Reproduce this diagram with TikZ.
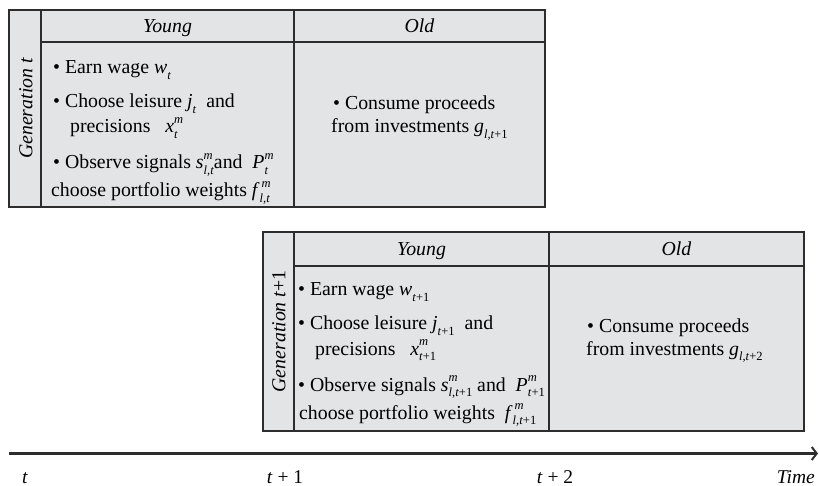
\documentclass[tikz,border=0pt]{standalone}
\usepackage{fontspec}
\setmainfont{Liberation Serif}
\usetikzlibrary{arrows.meta}
\definecolor{cellfill}{RGB}{227,228,230}
\definecolor{rule}{RGB}{45,45,45}
\newcommand{\vi}[1]{\textit{#1}}
\newcommand{\scrsz}{\fontsize{12.5}{12.5}\selectfont}
\newcommand{\Sb}[1]{\raisebox{-0.28em}{\scrsz #1}}
\newcommand{\Sp}[1]{\raisebox{0.5em}{\scrsz #1}}
\newcommand{\SbSp}[3][0pt]{\begingroup\setbox0=\hbox{\Sb{#2}}\setbox2=\hbox{\kern#1\Sp{#3}}\ifdim\wd0>\wd2 \rlap{\box2}\box0\else\rlap{\box0}\box2\fi\endgroup}
\tikzset{
  txt/.style={anchor=base west, inner sep=0pt, font=\fontsize{19.8}{22}\selectfont},
  hdr/.style={anchor=base, inner sep=0pt, font=\fontsize{19.8}{22}\selectfont\itshape},
  gen/.style={anchor=center, inner sep=0pt, rotate=90, font=\fontsize{19.8}{22}\selectfont\itshape},
  box/.style={draw=rule, fill=cellfill, line width=1.6pt},
  sep/.style={draw=rule, line width=1.6pt},
  tl/.style={anchor=base, inner sep=0pt, font=\fontsize{19.5}{22}\selectfont},
}
\begin{document}
\begin{tikzpicture}[x=1pt,y=-1pt]
\useasboundingbox (0,0) rectangle (819,486);
% ---------- Generation t ----------
\path[box] (9,10) rectangle (545,207);
\draw[sep] (41,10) -- (41,207);
\draw[sep] (41,42) -- (545,42);
\draw[sep] (294,10) -- (294,207);
\node[hdr] (y1) at (167.5,33) {Young};
\node[hdr] (o1) at (419.5,33) {Old};
\node[gen] (g1) at (26,108.5) {Generation t};
\node[txt] (a1) at (53,74) {\textbullet\ Earn wage \vi{w}\Sb{\vi{t}}};
\node[txt] (a2) at (53,108) {\textbullet\ Choose leisure \vi{j}\Sb{\vi{t}}\ \ and};
\node[txt] (a3) at (70,133) {precisions \ \ \vi{x}\SbSp{\vi{t}}{\vi{m}}};
\node[txt] (a4) at (53,169) {\textbullet\ Observe signals \vi{s}\SbSp{\vi{l,t}}{\vi{m}}and \ \vi{P}\SbSp{\vi{t}}{\vi{m}}};
\node[txt] (a5) at (51,197) {choose portfolio weights \vi{f}\SbSp[2pt]{\vi{l,t}}{\vi{m}}};
\node[txt] (b1) at (333,110) {\textbullet\ Consume proceeds};
\node[txt] (b2) at (331,133) {from investments \vi{g}\Sb{\vi{l,t}+1}};
% ---------- Generation t+1 ----------
\path[box] (263,232) rectangle (804,431);
\draw[sep] (294,232) -- (294,431);
\draw[sep] (294,266) -- (804,266);
\draw[sep] (549,232) -- (549,431);
\node[hdr] (y2) at (421.5,256) {Young};
\node[hdr] (o2) at (676.5,256) {Old};
\node[gen] (g2) at (279,331.5) {Generation t\upshape+1};
\node[txt] (c1) at (298,296) {\textbullet\ Earn wage \vi{w}\Sb{\vi{t}+1}};
\node[txt] (c2) at (298,330) {\textbullet\ Choose leisure \vi{j}\Sb{\vi{t}+1}\ \ and};
\node[txt] (c3) at (315,355) {precisions \ \ \vi{x}\SbSp{\vi{t}+1}{\vi{m}}};
\node[txt] (c4) at (298,391) {\textbullet\ Observe signals \vi{s}\SbSp{\vi{l,t}+1}{\vi{m}} and \ \vi{P}\SbSp{\vi{t}+1}{\vi{m}}};
\node[txt] (c5) at (299,419) {choose portfolio weights \ \vi{f}\SbSp[2pt]{\vi{l,t}+1}{\vi{m}}};
\node[txt] (d1) at (587,332) {\textbullet\ Consume proceeds};
\node[txt] (d2) at (586,355) {from investments \vi{g}\Sb{\vi{l,t}+2}};
% ---------- time axis ----------
\coordinate (ax0) at (9,453.5);
\coordinate (ax1) at (818,453.5);
\draw[line width=3pt, rule, -{Straight Barb[length=5pt,width=13pt,line width=2pt]}] (ax0) -- (ax1);
\node[tl] (t0) at (25,483) {\vi{t}};
\node[tl] (t1) at (285,483) {\vi{t} + 1};
\node[tl] (t2) at (555,483) {\vi{t} + 2};
\node[tl, anchor=base east] (tt) at (815,483) {\vi{Time}};
\end{tikzpicture}
\end{document}
